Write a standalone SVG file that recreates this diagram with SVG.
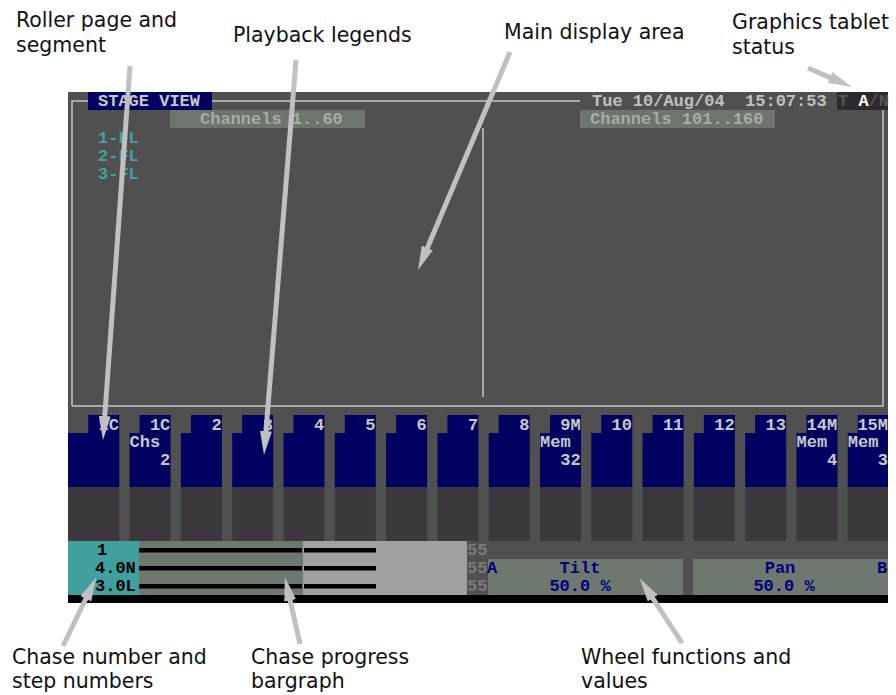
<svg xmlns="http://www.w3.org/2000/svg" width="896" height="695" viewBox="0 0 896 695">
<style>
.mono{font-family:"Liberation Mono","DejaVu Sans Mono",monospace;font-size:17px;font-weight:bold}
.lbl{font-family:"DejaVu Sans","Liberation Sans",sans-serif;font-size:20.5px;fill:#111}
.fl{fill:#c8c8c8}
.nv{fill:#000060}
.dk{fill:#3d383d}
.frame{stroke:#a8a8a8;stroke-width:2;fill:none}
.call{stroke:#c0c0c0;stroke-width:5;fill:none;marker-end:url(#ah)}
.wt{fill:#000080}
.g55{fill:#7a7a7a}
</style>
<defs>
<marker id="ah" viewBox="0 0 24 12" refX="2" refY="6" markerWidth="24" markerHeight="12" markerUnits="userSpaceOnUse" orient="auto">
<path d="M0,0 L24,6 L0,12 z" fill="#c0c0c0"/>
</marker>
</defs>
<rect width="896" height="695" fill="#fff"/>
<g id="screen">
<rect x="68" y="92" width="820" height="503" fill="#505050"/>
<rect x="68" y="595" width="820" height="8" fill="#000"/>
</g>
<g id="main-display">
<path class="frame" d="M72,406 V101 H88 M212,101 H580 M883,110 V406 H72"/>
<line class="frame" x1="483" y1="128" x2="483" y2="397"/>
<rect x="88" y="92" width="124" height="18" fill="#000060"/>
<text class="mono fl" x="98" y="106">STAGE VIEW</text>
<rect x="170" y="110" width="195" height="18" fill="#6c766c"/>
<text class="mono" x="200" y="124" fill="#a4aca4">Channels 1..60</text>
<rect x="580" y="110" width="195" height="18" fill="#6c766c"/>
<text class="mono" x="590" y="124" fill="#a4aca4">Channels 101..160</text>
<text class="mono" x="98" y="143" fill="#40a0a0">1-FL</text>
<text class="mono" x="98" y="161" fill="#40a0a0">2-FL</text>
<text class="mono" x="98" y="179" fill="#40a0a0">3-FL</text>
<text class="mono" x="592" y="106" fill="#c0c0c0" xml:space="preserve">Tue 10/Aug/04  15:07:53</text>
</g>
<g id="tablet-status">
<rect x="837" y="92" width="51" height="18" fill="#302830"/>
<text class="mono" x="838" y="106" xml:space="preserve"><tspan fill="#5c5258">T</tspan> <tspan fill="#ffffff">A</tspan><tspan fill="#5c5258">/N</tspan></text>
</g>
<g id="fader-1">
<path class="nv" d="M88.3,415 H119.3 V487 H68 V433 H88.3 Z"/><rect class="dk" x="68" y="487" width="51.3" height="54"/>
<text class="mono fl" x="119" y="430" text-anchor="end">1C</text>
</g>
<g id="fader-2">
<path class="nv" d="M139.6,415 H170.6 V487 H129.6 V433 H139.6 Z"/><rect class="dk" x="129.6" y="487" width="41" height="54"/>
<text class="mono fl" x="170.3" y="430" text-anchor="end">1C</text>
<text class="mono fl" x="129.6" y="447">Chs</text>
<text class="mono fl" x="170.3" y="465" text-anchor="end">2</text>
</g>
<g id="fader-3">
<path class="nv" d="M190.9,415 H221.9 V487 H180.9 V433 H190.9 Z"/><rect class="dk" x="180.9" y="487" width="41" height="54"/>
<text class="mono fl" x="221.6" y="430" text-anchor="end">2</text>
</g>
<g id="fader-4">
<path class="nv" d="M242.2,415 H273.2 V487 H232.2 V433 H242.2 Z"/><rect class="dk" x="232.2" y="487" width="41" height="54"/>
<text class="mono fl" x="272.9" y="430" text-anchor="end">3</text>
</g>
<g id="fader-5">
<path class="nv" d="M293.5,415 H324.5 V487 H283.5 V433 H293.5 Z"/><rect class="dk" x="283.5" y="487" width="41" height="54"/>
<text class="mono fl" x="324.2" y="430" text-anchor="end">4</text>
</g>
<g id="fader-6">
<path class="nv" d="M344.8,415 H375.8 V487 H334.8 V433 H344.8 Z"/><rect class="dk" x="334.8" y="487" width="41" height="54"/>
<text class="mono fl" x="375.5" y="430" text-anchor="end">5</text>
</g>
<g id="fader-7">
<path class="nv" d="M396.1,415 H427.1 V487 H386.1 V433 H396.1 Z"/><rect class="dk" x="386.1" y="487" width="41" height="54"/>
<text class="mono fl" x="426.8" y="430" text-anchor="end">6</text>
</g>
<g id="fader-8">
<path class="nv" d="M447.4,415 H478.4 V487 H437.4 V433 H447.4 Z"/><rect class="dk" x="437.4" y="487" width="41" height="54"/>
<text class="mono fl" x="478.1" y="430" text-anchor="end">7</text>
</g>
<g id="fader-9">
<path class="nv" d="M498.7,415 H529.7 V487 H488.7 V433 H498.7 Z"/><rect class="dk" x="488.7" y="487" width="41" height="54"/>
<text class="mono fl" x="529.4" y="430" text-anchor="end">8</text>
</g>
<g id="fader-10">
<path class="nv" d="M550,415 H581 V487 H540 V433 H550 Z"/><rect class="dk" x="540" y="487" width="41" height="54"/>
<text class="mono fl" x="580.7" y="430" text-anchor="end">9M</text>
<text class="mono fl" x="540" y="447">Mem</text>
<text class="mono fl" x="580.7" y="465" text-anchor="end">32</text>
</g>
<g id="fader-11">
<path class="nv" d="M601.3,415 H632.3 V487 H591.3 V433 H601.3 Z"/><rect class="dk" x="591.3" y="487" width="41" height="54"/>
<text class="mono fl" x="632" y="430" text-anchor="end">10</text>
</g>
<g id="fader-12">
<path class="nv" d="M652.6,415 H683.6 V487 H642.6 V433 H652.6 Z"/><rect class="dk" x="642.6" y="487" width="41" height="54"/>
<text class="mono fl" x="683.3" y="430" text-anchor="end">11</text>
</g>
<g id="fader-13">
<path class="nv" d="M703.9,415 H734.9 V487 H693.9 V433 H703.9 Z"/><rect class="dk" x="693.9" y="487" width="41" height="54"/>
<text class="mono fl" x="734.6" y="430" text-anchor="end">12</text>
</g>
<g id="fader-14">
<path class="nv" d="M755.2,415 H786.2 V487 H745.2 V433 H755.2 Z"/><rect class="dk" x="745.2" y="487" width="41" height="54"/>
<text class="mono fl" x="785.9" y="430" text-anchor="end">13</text>
</g>
<g id="fader-15">
<path class="nv" d="M806.5,415 H837.5 V487 H796.5 V433 H806.5 Z"/><rect class="dk" x="796.5" y="487" width="41" height="54"/>
<text class="mono fl" x="837.2" y="430" text-anchor="end">14M</text>
<text class="mono fl" x="796.5" y="447">Mem</text>
<text class="mono fl" x="837.2" y="465" text-anchor="end">4</text>
</g>
<g id="fader-16">
<path class="nv" d="M857.8,415 H888 V487 H847.8 V433 H857.8 Z"/><rect class="dk" x="847.8" y="487" width="40.2" height="54"/>
<text class="mono fl" x="888" y="430" text-anchor="end">15M</text>
<text class="mono fl" x="847.8" y="447">Mem</text>
<text class="mono fl" x="888" y="465" text-anchor="end">3</text>
</g>
<g id="chase-numbers">
<rect x="68" y="541" width="71" height="54" fill="#40a09e"/>
<text class="mono" x="97" y="555" fill="#000">1</text>
<text class="mono" x="95" y="573" fill="#000">4.0N</text>
<text class="mono" x="95" y="591" fill="#000">3.0L</text>
</g>
<g id="chase-bargraph">
<rect x="139" y="541" width="164" height="54" fill="#6e786e"/>
<rect x="303" y="541" width="164" height="54" fill="#a0a0a0"/>
<rect x="139" y="548" width="163" height="4.5" fill="#000"/>
<rect x="304" y="548" width="72" height="4.5" fill="#000"/>
<rect x="139" y="566" width="163" height="4.5" fill="#000"/>
<rect x="304" y="566" width="72" height="4.5" fill="#000"/>
<rect x="139" y="584" width="163" height="4.5" fill="#000"/>
<rect x="304" y="584" width="72" height="4.5" fill="#000"/>
<text class="mono g55" x="467" y="555">55</text>
<text class="mono g55" x="467" y="573">55</text>
<text class="mono g55" x="467" y="591">55</text>
</g>
<g id="wheel-a">
<rect x="488" y="559" width="195" height="36" fill="#6e786e"/>
<text class="mono wt" x="487" y="573">A</text>
<text class="mono wt" x="580" y="573" text-anchor="middle">Tilt</text>
<text class="mono wt" x="580" y="591" text-anchor="middle">50.0 %</text>
</g>
<g id="wheel-b">
<rect x="693" y="559" width="195" height="36" fill="#6e786e"/>
<text class="mono wt" x="780" y="573" text-anchor="middle">Pan</text>
<text class="mono wt" x="784" y="591" text-anchor="middle">50.0 %</text>
<text class="mono wt" x="877" y="573">B</text>
</g>
<g id="labels">
<text class="lbl" x="16" y="27">Roller page and</text>
<text class="lbl" x="16" y="52">segment</text>
<text class="lbl" x="233" y="42">Playback legends</text>
<text class="lbl" x="504" y="39">Main display area</text>
<text class="lbl" x="732" y="29">Graphics tablet</text>
<text class="lbl" x="732" y="54">status</text>
<text class="lbl" x="12" y="664">Chase number and</text>
<text class="lbl" x="12" y="688">step numbers</text>
<text class="lbl" x="251" y="664">Chase progress</text>
<text class="lbl" x="251" y="688">bargraph</text>
<text class="lbl" x="581" y="664">Wheel functions and</text>
<text class="lbl" x="581" y="688">values</text>
</g>
<g id="connectors">
<line class="call" x1="130" y1="66" x2="104.6" y2="418.1"/>
<line class="call" x1="296" y1="60" x2="265.8" y2="433.1"/>
<line class="call" x1="510" y1="52" x2="426.6" y2="249.7"/>
<line class="call" x1="808" y1="68" x2="831.8" y2="78.3"/>
<line class="call" x1="63" y1="646" x2="86.7" y2="597"/>
<line class="call" x1="300" y1="644" x2="289.7" y2="598.5"/>
<line class="call" x1="682" y1="643" x2="651.7" y2="596.6"/>
</g>
</svg>
